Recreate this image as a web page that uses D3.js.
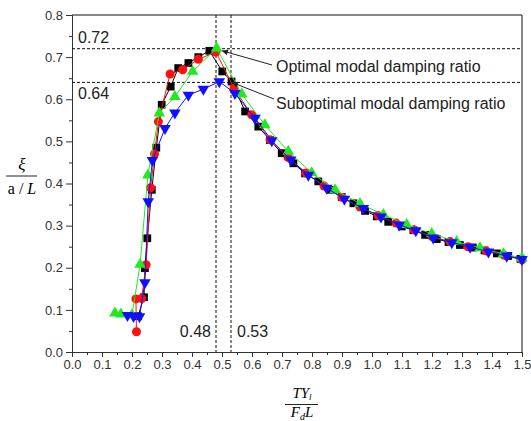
<!DOCTYPE html>
<html>
<head>
<meta charset="utf-8">
<script src="https://cdn.jsdelivr.net/npm/d3@7"></script>
<style>
  html, body { margin: 0; padding: 0; background: #fff; }
  svg { display: block; }
</style>
</head>
<body>
<svg id="chart" width="531" height="421"></svg>
<script>
// Normalised damping ratio vs. normalised damper parameter, four cases.
const blackSquares = [
  [0.220,0.085],[0.240,0.130],[0.243,0.199],[0.251,0.270],[0.266,0.385],[0.281,0.485],
  [0.299,0.587],[0.329,0.630],[0.354,0.674],[0.388,0.686],[0.421,0.700],[0.458,0.715],
  [0.501,0.666],[0.532,0.642],[0.577,0.571],[0.621,0.535],[0.660,0.503],[0.699,0.472],
  [0.738,0.448],[0.777,0.424],[0.821,0.405],[0.860,0.385],[0.899,0.368],[0.938,0.353],
  [0.977,0.335],[1.016,0.322],[1.054,0.309],[1.099,0.298],[1.138,0.289],[1.177,0.278],
  [1.216,0.268],[1.255,0.261],[1.293,0.254],[1.336,0.248],[1.375,0.241],[1.416,0.234],
  [1.454,0.228],[1.495,0.221]
];
const redCircles = [
  [0.215,0.048],[0.213,0.126],[0.232,0.127],[0.247,0.207],[0.262,0.390],[0.275,0.470],
  [0.288,0.547],[0.327,0.660],[0.369,0.670],[0.421,0.695],[0.480,0.712],[0.540,0.626],
  [0.599,0.563],[0.660,0.504],[0.720,0.462],[0.780,0.425],[0.840,0.394],[0.900,0.367],
  [0.960,0.344],[1.020,0.324],[1.080,0.306],[1.140,0.290],[1.200,0.274],[1.260,0.262],
  [1.320,0.250],[1.380,0.240],[1.440,0.230],[1.500,0.219]
];
const greenTriangles = [
  [0.143,0.092],[0.163,0.090],[0.200,0.088],[0.227,0.208],[0.253,0.420],[0.291,0.567],
  [0.343,0.606],[0.402,0.666],[0.482,0.721],[0.566,0.612],[0.643,0.539],[0.721,0.476],
  [0.799,0.425],[0.877,0.385],[0.960,0.352],[1.038,0.326],[1.116,0.302],[1.199,0.281],
  [1.282,0.262],[1.360,0.247],[1.438,0.233],[1.500,0.223]
];
const blueTriangles = [
  [0.185,0.087],[0.205,0.085],[0.225,0.084],[0.243,0.165],[0.254,0.357],[0.268,0.455],
  [0.310,0.531],[0.343,0.568],[0.388,0.610],[0.438,0.624],[0.491,0.642],[0.543,0.614],
  [0.610,0.555],[0.666,0.502],[0.729,0.456],[0.788,0.420],[0.849,0.389],[0.908,0.363],
  [0.971,0.341],[1.030,0.321],[1.091,0.302],[1.146,0.288],[1.204,0.271],[1.266,0.260],
  [1.327,0.249],[1.388,0.238],[1.449,0.228],[1.500,0.220]
];

const xTicks = [0.0,0.1,0.2,0.3,0.4,0.5,0.6,0.7,0.8,0.9,1.0,1.1,1.2,1.3,1.4,1.5];
const yTicks = [0.0,0.1,0.2,0.3,0.4,0.5,0.6,0.7,0.8];
const refLevels = [0.72, 0.64];      // horizontal guide lines
const refParams = [0.48, 0.53];      // vertical guide lines

const series = [
  { name: "case A", data: blackSquares,   color: "#000000", symbol: d3.symbolSquare,   size: 60, rotate: 0 },
  { name: "case B", data: redCircles,     color: "#ff1010", symbol: d3.symbolCircle,   size: 64, rotate: 0 },
  { name: "case C", data: greenTriangles, color: "#22e822", symbol: d3.symbolTriangle, size: 58, rotate: 0 },
  { name: "case D", data: blueTriangles,  color: "#1010ff", symbol: d3.symbolTriangle, size: 58, rotate: 180 }
];

const svg = d3.select("#chart");
const plot = { left: 72, right: 522, top: 15, bottom: 352 };

const x = d3.scaleLinear().domain([0, 1.5]).range([plot.left, plot.right]);
const y = d3.scaleLinear().domain([0, 0.8]).range([plot.bottom, plot.top]);

const tickFont = "'Liberation Sans', Arial, sans-serif";
const axisColor = "#333";

// minor ticks halfway between the labelled ones
const xMinor = xTicks.slice(0, -1).map(t => t + 0.05);
const yMinor = yTicks.slice(0, -1).map(t => t + 0.05);

svg.append("g").attr("transform", `translate(0,${plot.bottom})`)
  .call(d3.axisBottom(x).tickValues(xTicks).tickFormat(d3.format(".1f")).tickSizeOuter(0).tickSize(5).tickPadding(3));
svg.append("g").attr("transform", `translate(0,${plot.bottom})`)
  .call(d3.axisBottom(x).tickValues(xMinor).tickFormat("").tickSizeOuter(0).tickSize(3))
  .select(".domain").remove();

svg.append("g").attr("transform", `translate(${plot.left},0)`)
  .call(d3.axisLeft(y).tickValues(yTicks).tickFormat(d3.format(".1f")).tickSizeOuter(0).tickSize(6).tickPadding(3));
svg.append("g").attr("transform", `translate(${plot.left},0)`)
  .call(d3.axisLeft(y).tickValues(yMinor).tickFormat("").tickSizeOuter(0).tickSize(3))
  .select(".domain").remove();

svg.selectAll(".tick line").attr("stroke", axisColor);
svg.selectAll(".domain").attr("stroke", axisColor);
svg.selectAll(".tick text").attr("fill", "#333").style("font-family", tickFont).style("font-size", "13px");

// frame top and right
svg.append("line").attr("x1", plot.left).attr("x2", plot.right).attr("y1", plot.top).attr("y2", plot.top).attr("stroke", "#111");
svg.append("line").attr("x1", plot.right).attr("x2", plot.right).attr("y1", plot.top).attr("y2", plot.bottom).attr("stroke", "#111");

// dashed guide lines
svg.selectAll(".hguide").data(refLevels).join("line")
  .attr("x1", plot.left).attr("x2", plot.right)
  .attr("y1", d => y(d)).attr("y2", d => y(d))
  .attr("stroke", "#111").attr("stroke-dasharray", "3,2");
svg.selectAll(".vguide").data(refParams).join("line")
  .attr("y1", plot.top).attr("y2", plot.bottom)
  .attr("x1", d => x(d)).attr("x2", d => x(d))
  .attr("stroke", "#111").attr("stroke-dasharray", "3,2");

const labelFont = "'Liberation Sans', Arial, sans-serif";
svg.append("text").attr("x", plot.left + 6).attr("y", y(0.72) - 6).text("0.72")
  .style("font-family", labelFont).style("font-size", "16px").attr("fill", "#222");
svg.append("text").attr("x", plot.left + 6).attr("y", y(0.64) + 17).text("0.64")
  .style("font-family", labelFont).style("font-size", "16px").attr("fill", "#222");
svg.append("text").attr("x", x(0.48) - 5).attr("y", y(0.035)).attr("text-anchor", "end").text("0.48")
  .style("font-family", labelFont).style("font-size", "16px").attr("fill", "#222");
svg.append("text").attr("x", x(0.53) + 6).attr("y", y(0.035)).text("0.53")
  .style("font-family", labelFont).style("font-size", "16px").attr("fill", "#222");

// series: connecting line then markers
const line = d3.line().x(d => x(d[0])).y(d => y(d[1]));
series.forEach(s => {
  svg.append("path").datum(s.data).attr("d", line)
    .attr("fill", "none").attr("stroke", s.color).attr("stroke-width", 1);
  svg.append("g").selectAll("path").data(s.data).join("path")
    .attr("d", d3.symbol().type(s.symbol).size(s.size))
    .attr("transform", d => `translate(${x(d[0])},${y(d[1])}) rotate(${s.rotate})`)
    .attr("fill", s.color);
});

// annotations with arrows
const defs = svg.append("defs");
defs.append("marker").attr("id", "arrowhead").attr("viewBox", "0 0 10 10")
  .attr("refX", 10).attr("refY", 5).attr("markerWidth", 9).attr("markerHeight", 6)
  .attr("orient", "auto").attr("markerUnits", "userSpaceOnUse")
  .append("path").attr("d", "M0,0 L10,5 L0,10 Z").attr("fill", "#222");

svg.append("line").attr("x1", 272).attr("y1", 65).attr("x2", x(0.483) + 5).attr("y2", y(0.72) + 2)
  .attr("stroke", "#222").attr("marker-end", "url(#arrowhead)");
svg.append("line").attr("x1", 274).attr("y1", 99).attr("x2", x(0.533)).attr("y2", y(0.64))
  .attr("stroke", "#222").attr("marker-end", "url(#arrowhead)");

svg.append("text").attr("x", 276).attr("y", 72).text("Optimal modal damping ratio")
  .style("font-family", labelFont).style("font-size", "16px").attr("fill", "#222");
svg.append("text").attr("x", 276).attr("y", 109).text("Suboptimal modal damping ratio")
  .style("font-family", labelFont).style("font-size", "16px").attr("fill", "#222");

// axis titles as stacked fractions
const serif = "'Liberation Serif', 'Times New Roman', serif";
const yt = svg.append("g").attr("transform", "translate(22,0)");
yt.append("text").attr("x", 0).attr("y", 170).attr("text-anchor", "middle")
  .style("font-family", serif).style("font-style", "italic").style("font-size", "17px").text("ξ");
yt.append("line").attr("x1", -16).attr("x2", 15).attr("y1", 176).attr("y2", 176).attr("stroke", "#222");
const aL = yt.append("text").attr("x", 0).attr("y", 194).attr("text-anchor", "middle")
  .style("font-family", serif).style("font-size", "16px");
aL.append("tspan").text("a / ");
aL.append("tspan").style("font-style", "italic").text("L");

const xt = svg.append("g").attr("transform", `translate(${(plot.left + plot.right) / 2 + 5},0)`);
const num = xt.append("text").attr("x", 0).attr("y", 398).attr("text-anchor", "middle")
  .style("font-family", serif).style("font-style", "italic").style("font-size", "15px");
num.append("tspan").text("TY");
num.append("tspan").attr("dy", 2).style("font-size", "9px").text("l");
xt.append("line").attr("x1", -17).attr("x2", 16).attr("y1", 404.5).attr("y2", 404.5).attr("stroke", "#222");
const den = xt.append("text").attr("x", 0).attr("y", 417).attr("text-anchor", "middle")
  .style("font-family", serif).style("font-style", "italic").style("font-size", "15px");
den.append("tspan").text("F");
den.append("tspan").attr("dy", 3).style("font-size", "10px").text("d");
den.append("tspan").attr("dy", -3).text("L");
</script>
</body>
</html>
